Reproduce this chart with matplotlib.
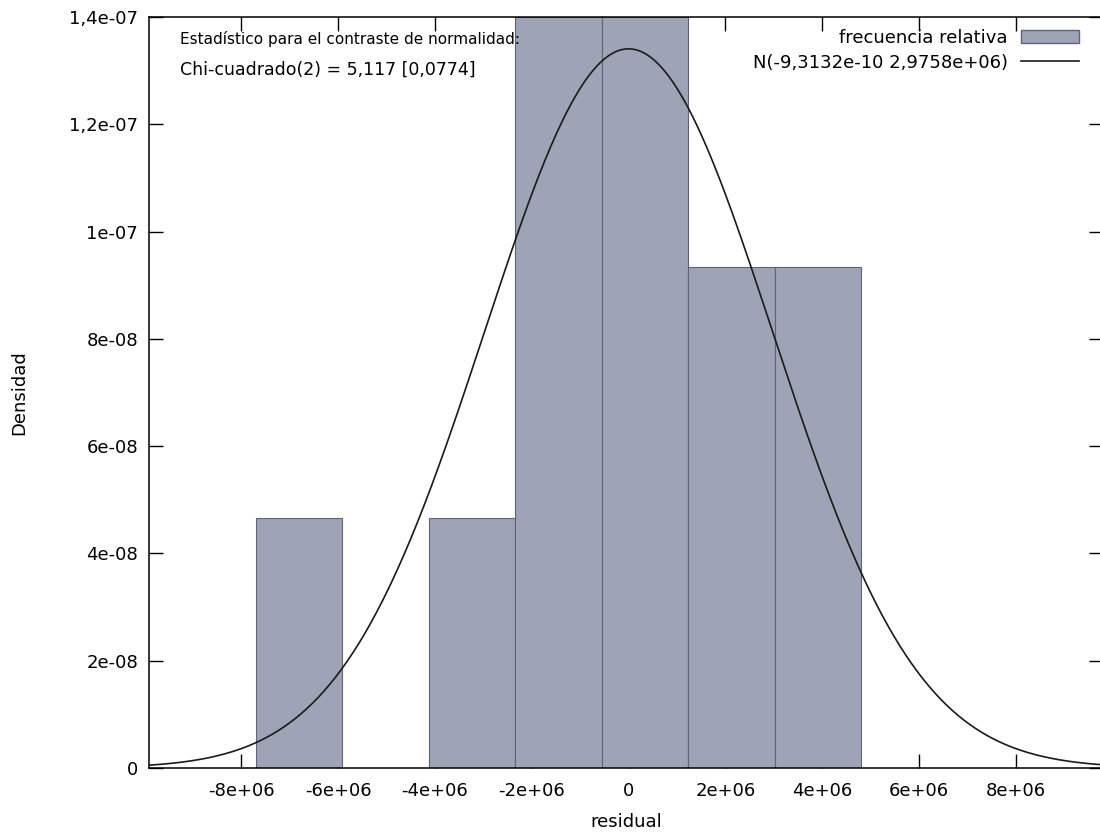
import numpy as np
import matplotlib
matplotlib.use('Agg')
import matplotlib.pyplot as plt
from matplotlib.patches import Patch
from matplotlib.lines import Line2D
from matplotlib.ticker import FuncFormatter

# Histogram of residuals (gretl-style normality test plot)
bin_edges = [-7.70e6, -5.914e6, -4.128e6, -2.342e6, -0.556e6, 1.230e6, 3.016e6, 4.802e6]
counts = [1, 0, 1, 3, 3, 2, 2]
n_obs = 12

# fitted normal
mu = -9.3132e-10
sigma = 2.9758e6

x_ticks = [-8e6, -6e6, -4e6, -2e6, 0, 2e6, 4e6, 6e6, 8e6]
y_ticks = [0, 2e-8, 4e-8, 6e-8, 8e-8, 1e-7, 1.2e-7, 1.4e-7]

stat_lines = ["Estadístico para el contraste de normalidad:",
              "Chi-cuadrado(2) = 5,117 [0,0774]"]
hist_label = "frecuencia relativa"
curve_label = "N(-9,3132e-10 2,9758e+06)"

bar_fill = '#9ea4b5'
bar_edge = '#5e6476'

plt.rcParams['font.family'] = ['DejaVu Sans']
plt.rcParams['font.size'] = 13

W, H = 1100, 838
fig = plt.figure(figsize=(W / 100, H / 100), dpi=100)
# axes box in pixels: left 149, top 17, bottom 768, right just past the image edge
ax = fig.add_axes([149.3 / W, 1 - 768 / H, (1103 - 149.3) / W, (768 - 17) / H])

edges = np.array(bin_edges)
widths = np.diff(edges)
dens = np.array(counts) / (n_obs * widths)
ax.bar(edges[:-1], dens, width=widths, align='edge',
       color=bar_fill, edgecolor=bar_edge, linewidth=0.8, zorder=2)

xs = np.linspace(-9.9e6, 9.9e6, 500)
pdf = np.exp(-0.5 * ((xs - mu) / sigma) ** 2) / (sigma * np.sqrt(2 * np.pi))
ax.plot(xs, pdf, color='#1a1a1a', linewidth=1.2, zorder=3)

ax.set_xlim(-9.9e6, 9.8e6)
ax.set_ylim(0, 1.4e-7)
ax.set_xticks(x_ticks)
ax.set_yticks(y_ticks)
fmt = FuncFormatter(lambda v, p: ('%g' % v).replace('.', ','))
ax.xaxis.set_major_formatter(fmt)
ax.yaxis.set_major_formatter(fmt)
ax.tick_params(direction='in', length=10, width=1, top=True, right=True,
               labelsize=13)
ax.tick_params(axis='x', pad=10)
ax.tick_params(axis='y', pad=8)
for s in ax.spines.values():
    s.set_linewidth(1.1)

ax.set_xlabel("residual")
ax.set_ylabel("Densidad")
ax.xaxis.set_label_coords(0.5, -0.06)
ax.yaxis.set_label_coords(-0.127, 0.5)

ax.text(0.032, 0.9814, stat_lines[0], transform=ax.transAxes,
        va='top', ha='left', fontsize=11)
ax.text(0.032, 0.9414, stat_lines[1], transform=ax.transAxes,
        va='top', ha='left', fontsize=12.5)

handles = [Patch(facecolor=bar_fill, edgecolor=bar_edge),
           Line2D([0], [0], color='#1a1a1a', linewidth=1.2)]
fig.legend(handles, [hist_label, curve_label], loc='upper right',
           bbox_to_anchor=(1079 / W, 1 - 29 / H), frameon=False,
           markerfirst=False, fontsize=13, handlelength=3.2, handleheight=0.72,
           borderaxespad=0, borderpad=0, labelspacing=0.38, handletextpad=0.75)

fig.savefig('out.png', dpi=100)
